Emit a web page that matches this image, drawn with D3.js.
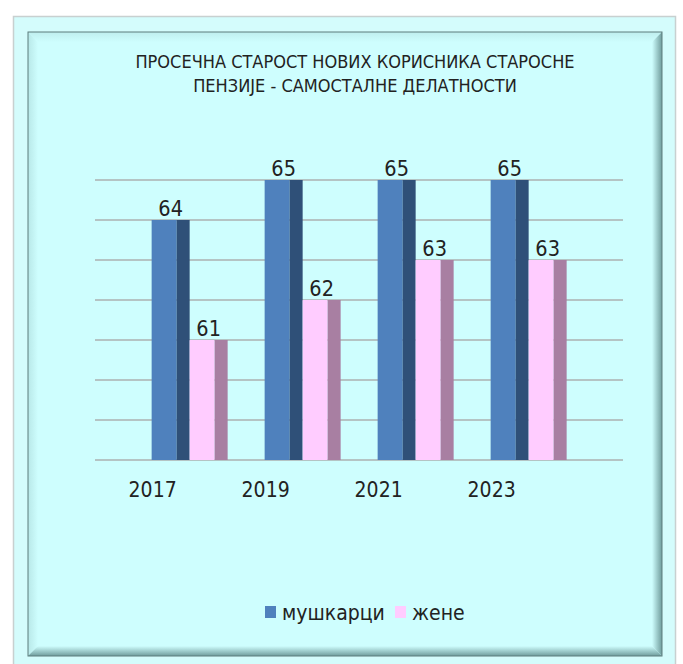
<!DOCTYPE html>
<html lang="sr">
<head>
<meta charset="UTF-8">
<title>Просечна старост</title>
<script src="https://d3js.org/d3.v7.min.js"></script>
<style>
  body { margin: 0; background: #ffffff; }
  svg text { font-family: "DejaVu Sans Condensed", Tahoma, "DejaVu Sans", sans-serif; fill: #222; }
</style>
</head>
<body>
<svg id="chart" width="683" height="664"></svg>
<script>
// data
const years = ["2017", "2019", "2021", "2023"];
const men = [64, 65, 65, 65];
const women = [61, 62, 63, 63];
const seriesNames = ["мушкарци", "жене"];
const titleLines = ["ПРОСЕЧНА СТАРОСТ НОВИХ КОРИСНИКА СТАРОСНЕ", "ПЕНЗИЈЕ - САМОСТАЛНЕ ДЕЛАТНОСТИ"];

const svg = d3.select("#chart");
const defs = svg.append("defs");

// outer frame
svg.append("rect")
  .attr("x", 13.5).attr("y", 16.5).attr("width", 662).attr("height", 660)
  .attr("fill", "#d4fcfc").attr("stroke", "#c8d0d0").attr("stroke-width", 1.5);

// inner bevel panel
const ix = 28, iy = 32, iw = 634, ih = 624, b = 10;
svg.append("rect").attr("x", ix).attr("y", iy).attr("width", iw).attr("height", ih)
  .attr("fill", "#cefefe");

function grad(id, x1, y1, x2, y2, c1, c2) {
  const g = defs.append("linearGradient").attr("id", id)
    .attr("x1", x1).attr("y1", y1).attr("x2", x2).attr("y2", y2);
  g.append("stop").attr("offset", "0%").attr("stop-color", c1);
  g.append("stop").attr("offset", "100%").attr("stop-color", c2);
}
grad("gR", "0", "0", "1", "0", "#cefefe", "#6f9c9c");
grad("gB", "0", "0", "0", "1", "#cefefe", "#6f9c9c");
grad("gL", "1", "0", "0", "0", "#cefefe", "#b8e8e8");
grad("gT", "0", "1", "0", "0", "#cefefe", "#bfeeee");

svg.append("polygon").attr("fill", "url(#gT)")
  .attr("points", [[ix, iy], [ix + iw, iy], [ix + iw - b, iy + b], [ix + b, iy + b]].join(" "));
svg.append("polygon").attr("fill", "url(#gL)")
  .attr("points", [[ix, iy], [ix + b, iy + b], [ix + b, iy + ih - b], [ix, iy + ih]].join(" "));
svg.append("polygon").attr("fill", "url(#gR)")
  .attr("points", [[ix + iw, iy], [ix + iw, iy + ih], [ix + iw - b, iy + ih - b], [ix + iw - b, iy + b]].join(" "));
svg.append("polygon").attr("fill", "url(#gB)")
  .attr("points", [[ix, iy + ih], [ix + iw, iy + ih], [ix + iw - b, iy + ih - b], [ix + b, iy + ih - b]].join(" "));
svg.append("rect").attr("x", ix).attr("y", iy).attr("width", iw).attr("height", ih)
  .attr("fill", "none").attr("stroke", "#5c7c7c").attr("stroke-width", 1);

// title
svg.append("g").selectAll("text").data(titleLines).join("text")
  .attr("x", 355).attr("y", (d, i) => 68 + i * 24)
  .attr("text-anchor", "middle").attr("font-size", 18)
  .text(d => d);

// scales
const y = d3.scaleLinear().domain([58, 65]).range([460, 180]);
const x = d3.scaleBand().domain(years).range([133, 585]).paddingInner(0.33).paddingOuter(0.165);
const front = 25, side = 13, barW = front + side;

// gridlines
svg.append("g").selectAll("line").data(d3.range(58, 66)).join("line")
  .attr("x1", 95).attr("x2", 623)
  .attr("y1", d => y(d)).attr("y2", d => y(d))
  .attr("stroke", "#b4c4c4").attr("stroke-width", 2);

const series = [
  { name: seriesNames[0], values: men, front: "#4f81bd", side: "#2f5078" },
  { name: seriesNames[1], values: women, front: "#ffccff", side: "#a87fa2" }
];

series.forEach((s, si) => {
  const g = svg.append("g");
  const bx = (d, i) => x(years[i]) + si * barW;
  g.selectAll("rect.f").data(s.values).join("rect").attr("class", "f")
    .attr("x", bx).attr("y", d => y(d)).attr("width", front)
    .attr("height", d => y(58) - y(d)).attr("fill", s.front);
  g.selectAll("rect.s").data(s.values).join("rect").attr("class", "s")
    .attr("x", (d, i) => bx(d, i) + front).attr("y", d => y(d)).attr("width", side)
    .attr("height", d => y(58) - y(d)).attr("fill", s.side);
  g.selectAll("text").data(s.values).join("text")
    .attr("x", (d, i) => bx(d, i) + barW / 2).attr("y", d => y(d) - 4)
    .attr("text-anchor", "middle").attr("font-size", 21.5).attr("fill", "#333")
    .text(d => d);
});

// category labels
svg.append("g").selectAll("text").data(years).join("text")
  .attr("x", d => x(d) + 1).attr("y", 497)
  .attr("text-anchor", "middle").attr("font-size", 21).attr("fill", "#333")
  .text(d => d);

// legend
const legend = svg.append("g");
const legendX = [265, 395];
series.forEach((s, i) => {
  legend.append("rect").attr("x", legendX[i]).attr("y", 606).attr("width", 11).attr("height", 12)
    .attr("fill", s.front);
  legend.append("text").attr("x", legendX[i] + 17).attr("y", 620)
    .attr("font-size", 21).attr("fill", "#333").text(s.name);
});
</script>
</body>
</html>
